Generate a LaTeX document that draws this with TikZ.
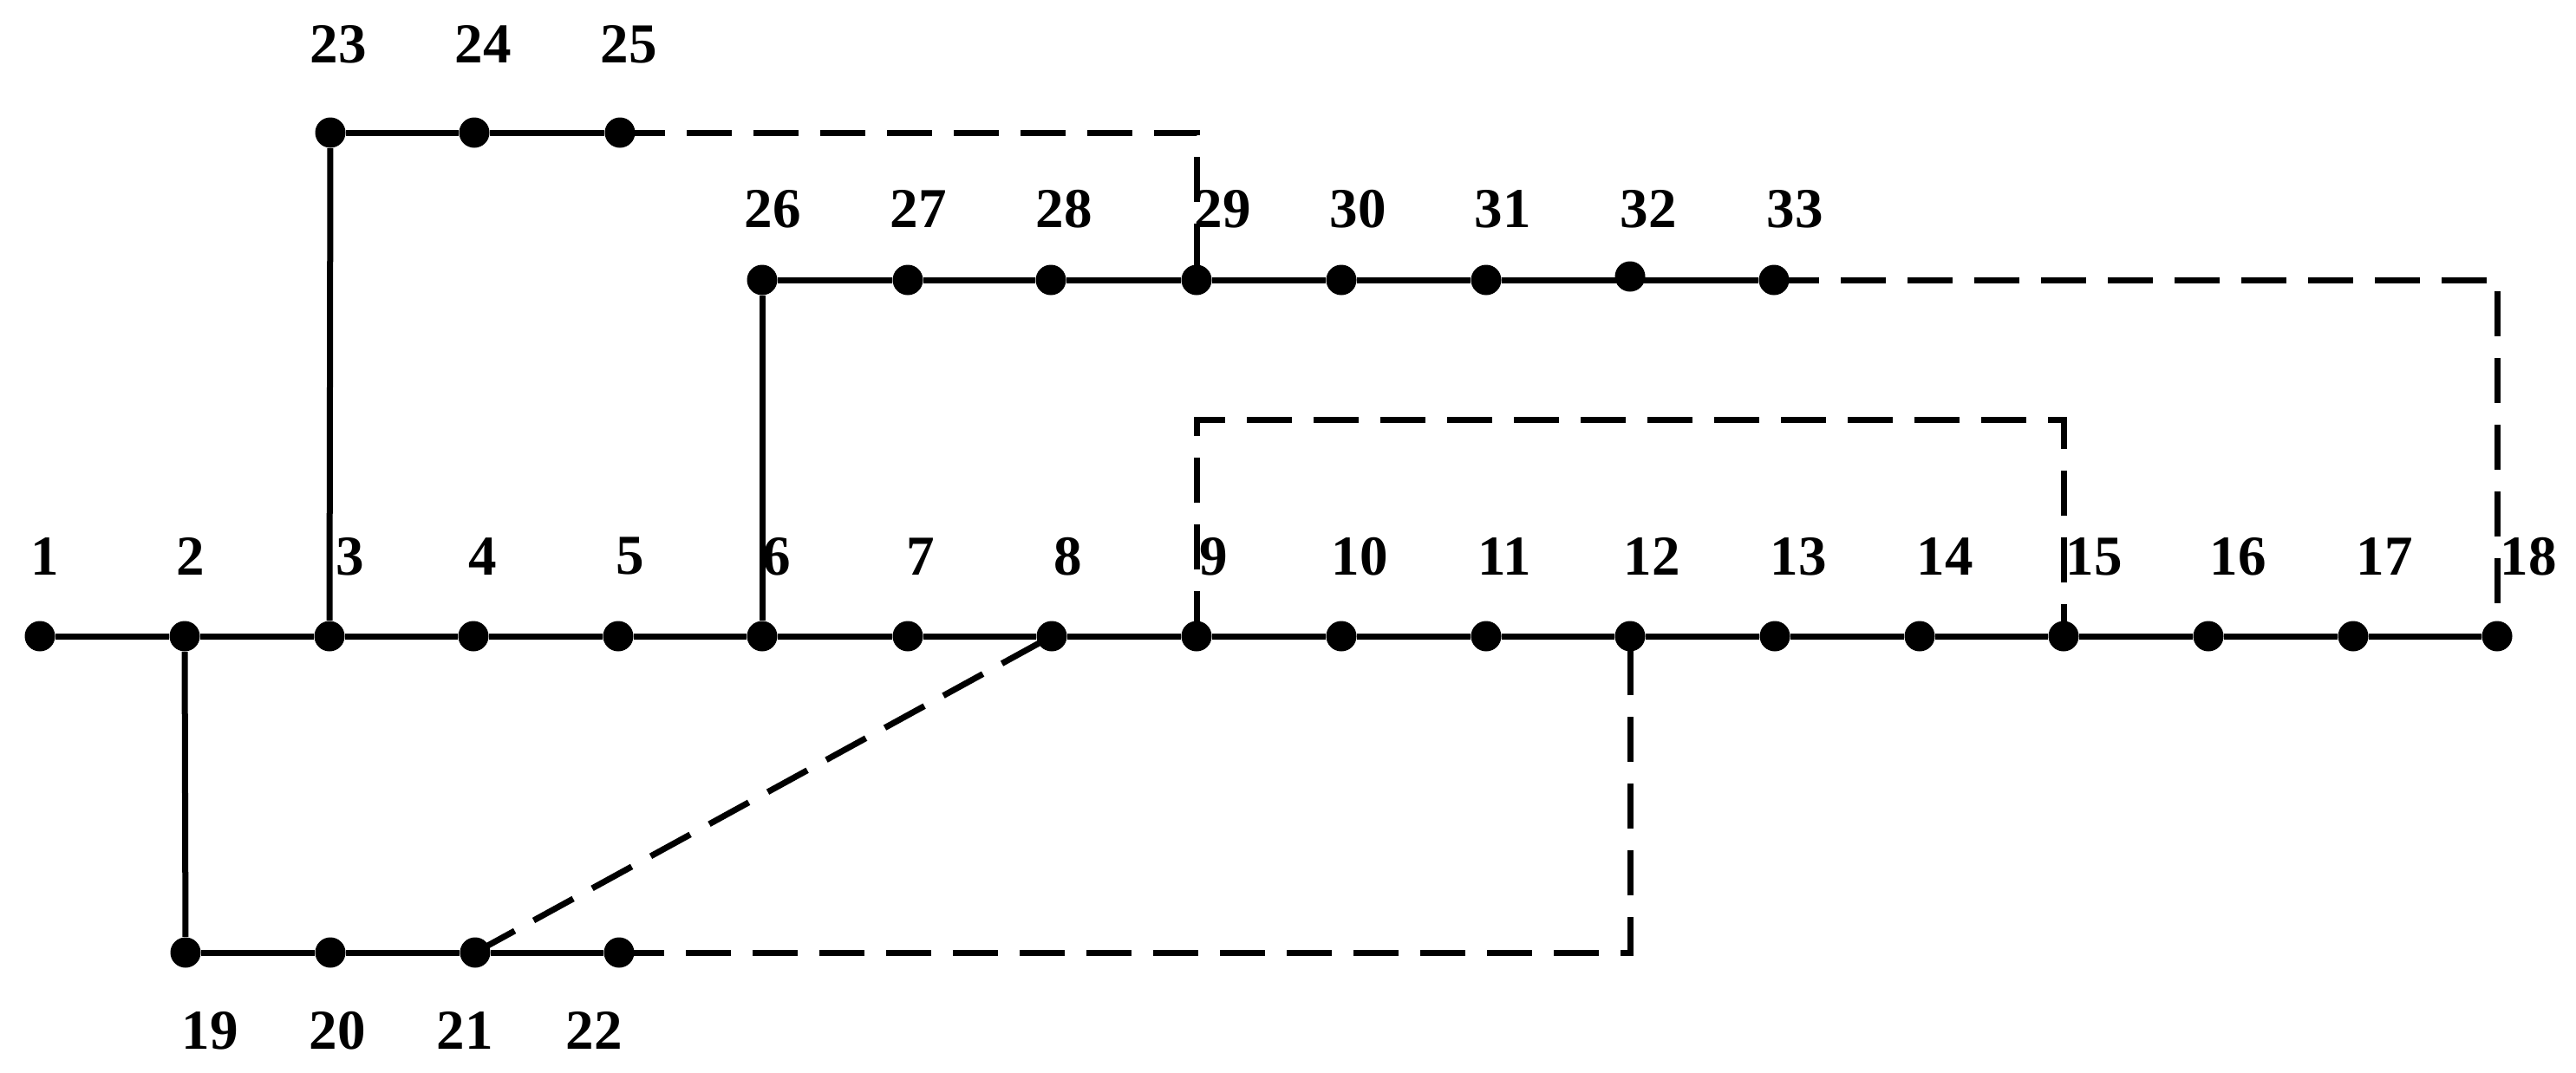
\documentclass[tikz,border=0pt]{standalone}
\usepackage{fontspec}
\setmainfont{Liberation Serif}
\tikzset{
  bus/.style={circle,fill=black,inner sep=0pt,minimum size=0.35cm},
  num/.style={inner sep=0pt,font=\fontsize{18.5pt}{20pt}\selectfont\bfseries},
  line/.style={line width=0.07cm},
  tie/.style={line width=0.07cm,dash pattern=on 0.52cm off 0.25cm}
}
\begin{document}
\begin{tikzpicture}
\useasboundingbox (0,0) rectangle (29.71,12.37);
\node [bus] (b1) at (0.46,5.03) {};    \node [num] (n1) at (0.52,5.95) {1};
\node [bus] (b2) at (2.13,5.03) {};    \node [num] (n2) at (2.20,5.95) {2};
\node [bus] (b3) at (3.80,5.03) {};    \node [num] (n3) at (4.04,5.95) {3};
\node [bus] (b4) at (5.46,5.03) {};    \node [num] (n4) at (5.57,5.95) {4};
\node [bus] (b5) at (7.13,5.03) {};    \node [num] (n5) at (7.27,5.95) {5};
\node [bus] (b6) at (8.79,5.03) {};    \node [num] (n6) at (8.96,5.95) {6};
\node [bus] (b7) at (10.47,5.03) {};   \node [num] (n7) at (10.62,5.95) {7};
\node [bus] (b8) at (12.13,5.03) {};   \node [num] (n8) at (12.32,5.95) {8};
\node [bus] (b9) at (13.80,5.03) {};   \node [num] (n9) at (14.00,5.95) {9};
\node [bus] (b10) at (15.47,5.03) {};  \node [num] (n10) at (15.68,5.95) {10};
\node [bus] (b11) at (17.14,5.03) {};  \node [num] (n11) at (17.35,5.95) {11};
\node [bus] (b12) at (18.80,5.03) {};  \node [num] (n12) at (19.05,5.95) {12};
\node [bus] (b13) at (20.47,5.03) {};  \node [num] (n13) at (20.74,5.95) {13};
\node [bus] (b14) at (22.14,5.03) {};  \node [num] (n14) at (22.43,5.95) {14};
\node [bus] (b15) at (23.80,5.03) {};  \node [num] (n15) at (24.15,5.95) {15};
\node [bus] (b16) at (25.47,5.03) {};  \node [num] (n16) at (25.81,5.95) {16};
\node [bus] (b17) at (27.14,5.03) {};  \node [num] (n17) at (27.50,5.95) {17};
\node [bus] (b18) at (28.80,5.03) {};  \node [num] (n18) at (29.16,5.95) {18};
\node [bus] (b19) at (2.14,1.38) {};   \node [num] (n19) at (2.42,0.48) {19};
\node [bus] (b20) at (3.81,1.38) {};   \node [num] (n20) at (3.89,0.48) {20};
\node [bus] (b21) at (5.48,1.38) {};   \node [num] (n21) at (5.36,0.48) {21};
\node [bus] (b22) at (7.14,1.38) {};   \node [num] (n22) at (6.85,0.48) {22};
\node [bus] (b23) at (3.81,10.84) {};  \node [num] (n23) at (3.90,11.86) {23};
\node [bus] (b24) at (5.47,10.84) {};  \node [num] (n24) at (5.57,11.86) {24};
\node [bus] (b25) at (7.15,10.84) {};  \node [num] (n25) at (7.25,11.86) {25};
\node [bus] (b26) at (8.79,9.14) {};   \node [num] (n26) at (8.91,9.96) {26};
\node [bus] (b27) at (10.47,9.14) {};  \node [num] (n27) at (10.59,9.96) {27};
\node [bus] (b28) at (12.12,9.14) {};  \node [num] (n28) at (12.27,9.96) {28};
\node [bus] (b29) at (13.80,9.14) {};  \node [num] (n29) at (14.10,9.96) {29};
\node [bus] (b30) at (15.47,9.14) {};  \node [num] (n30) at (15.66,9.96) {30};
\node [bus] (b31) at (17.14,9.14) {};  \node [num] (n31) at (17.33,9.96) {31};
\node [bus] (b32) at (18.80,9.18) {};  \node [num] (n32) at (19.01,9.96) {32};
\node [bus] (b33) at (20.46,9.14) {};  \node [num] (n33) at (20.70,9.96) {33};
\coordinate (t9) at (13.80,7.53);
\coordinate (t15) at (23.80,7.53);
% closed switches
\draw [line] (b1)--(b2)--(b3)--(b4)--(b5)--(b6)--(b7)--(b8)--(b9)--(b10)--(b11)--(b12)--(b13)--(b14)--(b15)--(b16)--(b17)--(b18);
\draw [line] (b2)--(b19);
\draw [line] (b19)--(b20)--(b21)--(b22);
\draw [line] (b3)--(b23);
\draw [line] (b23)--(b24)--(b25);
\draw [line] (b6)--(b26);
\draw [line] (b26)--(b27)--(b28)--(b29)--(b30)--(b31)--(b33); % b32 sits on this run
% open ties
\draw [tie] (b25.center) -| (b29.center);
\draw [tie] (b33.center) -| (b18.center);
\draw [tie] (b9.center)--(t9)--(t15)--(b15.center);
\draw [tie] (b22.center) -| (b12.center);
\draw [tie] (b21.center)--(b8.center);
\end{tikzpicture}
\end{document}
